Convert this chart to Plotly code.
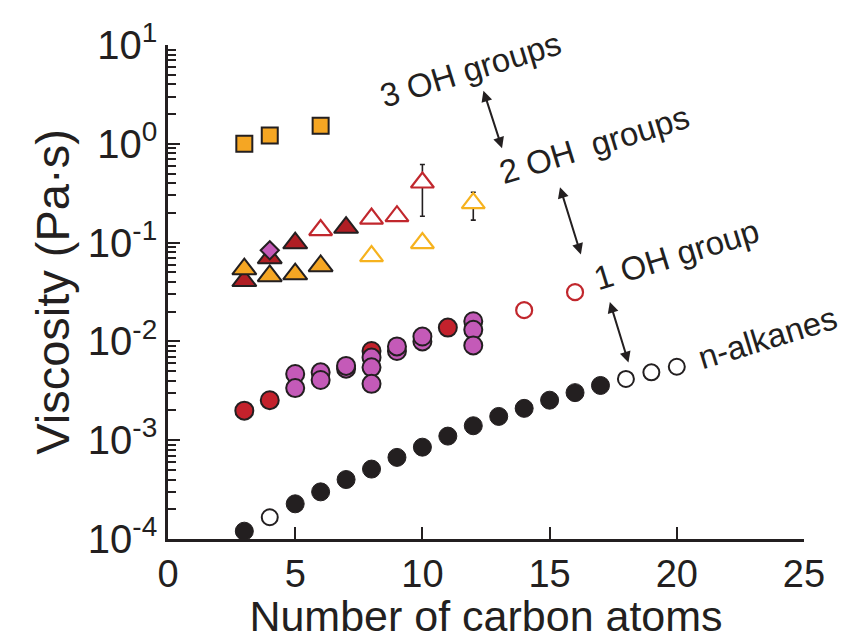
import plotly.graph_objects as go

# ---------------- data ----------------
# n-alkanes
alk_filled_x = [3, 5, 6, 7, 8, 9, 10, 11, 12, 13, 14, 15, 16, 17]
alk_filled_y = [1.2e-4, 2.27e-4, 3.0e-4, 4.0e-4, 5.1e-4, 6.7e-4, 8.5e-4,
                1.10e-3, 1.40e-3, 1.74e-3, 2.10e-3, 2.54e-3, 3.03e-3, 3.58e-3]
alk_open_x = [4, 18, 19, 20]
alk_open_y = [1.66e-4, 4.17e-3, 4.86e-3, 5.54e-3]

# 1 OH group
oh1_red_x = [3, 4, 8, 11]
oh1_red_y = [0.00199, 0.00254, 0.0080, 0.0138]
oh1_purple_x = [5, 5, 6, 6, 7, 7, 8, 8, 8, 9, 9, 10, 10, 12, 12, 12]
oh1_purple_y = [0.00468, 0.00337, 0.00486, 0.00407, 0.0053, 0.00565, 0.00686,
                0.00546, 0.00372, 0.0080, 0.0089, 0.0100, 0.0112, 0.016, 0.0131, 0.0091]
oh1_open_x = [14, 16]
oh1_open_y = [0.0207, 0.0315]

# 2 OH groups
oh2_darkred_x = [3, 4, 5, 7]
oh2_darkred_y = [0.041, 0.070, 0.099, 0.142]
oh2_orange_x = [3, 4, 5, 6]
oh2_orange_y = [0.054, 0.046, 0.048, 0.058]
oh2_diamond_x = [4]
oh2_diamond_y = [0.0836]
oh2_openred_x = [6, 8, 9]
oh2_openred_y = [0.134, 0.175, 0.185]
oh2_openred_err_x = [10]
oh2_openred_err_y = [0.406]
oh2_openred_err_plus = [0.211]
oh2_openred_err_minus = [0.221]
oh2_openorange_x = [8, 10]
oh2_openorange_y = [0.073, 0.099]
oh2_openorange_err_x = [12]
oh2_openorange_err_y = [0.251]
oh2_openorange_err_plus = [0.072]
oh2_openorange_err_minus = [0.082]

# 3 OH groups
oh3_x = [3, 4, 6]
oh3_y = [1.0, 1.21, 1.52]

# axis ticks
x_ticks = [0, 5, 10, 15, 20, 25]
y_decades = [-4, -3, -2, -1, 0, 1]
y_ticktext = ["10<sup>-4</sup>", "10<sup>-3</sup>", "10<sup>-2</sup>",
              "10<sup>-1</sup>", "10<sup>0</sup>", "10<sup>1</sup>"]

# ---------------- style ----------------
INK = "#231f20"
ORANGE = "#F5A623"
DARKRED = "#B01E24"
RED = "#C3212C"
PURPLE = "#C45AB8"
OPENRED = "#C1272D"
OPENORANGE = "#F6B21E"
FONT = "Liberation Sans, Arial, Helvetica, sans-serif"

fig = go.Figure()


def add(x, y, symbol, size, fill, line_color, line_width, err=None):
    kw = {}
    if err is not None:
        kw["error_y"] = dict(type="data", symmetric=False, array=err[0],
                             arrayminus=err[1], color=INK, thickness=1.6, width=2.5)
    fig.add_trace(go.Scatter(
        x=x, y=y, mode="markers", cliponaxis=False, showlegend=False,
        marker=dict(symbol=symbol, size=size, color=fill,
                    line=dict(color=line_color, width=line_width)),
        **kw))


# n-alkanes
add(alk_filled_x, alk_filled_y, "circle", 18, INK, INK, 1)
add(alk_open_x, alk_open_y, "circle", 16, "white", INK, 2)
# 1 OH
add(oh1_red_x, oh1_red_y, "circle", 18, RED, INK, 2)
add(oh1_purple_x, oh1_purple_y, "circle", 18, PURPLE, INK, 2)
add(oh1_open_x, oh1_open_y, "circle", 16, "white", OPENRED, 2.2)
# 2 OH
add(oh2_darkred_x, oh2_darkred_y, "triangle-up", 21, DARKRED, INK, 2)
add(oh2_orange_x, oh2_orange_y, "triangle-up", 21, ORANGE, INK, 2)
add(oh2_diamond_x, oh2_diamond_y, "diamond", 14, PURPLE, INK, 2)
add(oh2_openred_x, oh2_openred_y, "triangle-up", 20, "white", OPENRED, 2.2)
add(oh2_openred_err_x, oh2_openred_err_y, "triangle-up", 20, "white", OPENRED, 2.2,
    err=(oh2_openred_err_plus, oh2_openred_err_minus))
add(oh2_openorange_x, oh2_openorange_y, "triangle-up", 20, "white", OPENORANGE, 2.2)
add(oh2_openorange_err_x, oh2_openorange_err_y, "triangle-up", 20, "white", OPENORANGE, 2.2,
    err=(oh2_openorange_err_plus, oh2_openorange_err_minus))
# 3 OH
add(oh3_x, oh3_y, "square", 16, ORANGE, INK, 2)

# ---------------- annotations ----------------
labels = [
    ("3 OH groups", 11.88, 0.75),
    ("2 OH&nbsp; groups", 16.75, -0.004),
    ("1 OH group", 20.0, -1.117),
    ("n-alkanes", 23.58, -1.962),
]
for txt, lx, ly in labels:
    fig.add_annotation(x=lx, y=ly, xref="x", yref="y", text=txt,
                       showarrow=False, textangle=-17,
                       font=dict(family=FONT, size=33, color=INK),
                       xanchor="center", yanchor="middle")

arrows = [
    ((12.38, 0.553), (13.13, -0.044)),
    ((15.39, -0.424), (16.23, -1.120)),
    ((17.35, -1.585), (18.10, -2.214)),
]
for (x0, y0), (x1, y1) in arrows:
    fig.add_annotation(x=x1, y=y1, ax=x0, ay=y0, xref="x", yref="y",
                       axref="x", ayref="y", text="", showarrow=True,
                       arrowhead=2, startarrowhead=2, arrowside="end+start",
                       arrowsize=1.1, startarrowsize=1.1, arrowwidth=2, arrowcolor=INK)

minor_vals = [m * 10 ** d for d in range(-4, 1) for m in range(2, 10)]

fig.update_layout(
    width=851, height=640,
    margin=dict(l=168, r=47, t=45, b=92),
    paper_bgcolor="white", plot_bgcolor="white",
    font=dict(family=FONT, color=INK),
    xaxis=dict(
        range=[0, 25], tickvals=x_ticks, ticks="inside", ticklen=12, tickwidth=2,
        tickcolor=INK, showline=True, linecolor=INK, linewidth=2.5,
        showgrid=False, zeroline=False, mirror=False,
        tickfont=dict(size=38, family=FONT, color=INK),
        title=dict(text="Number of carbon atoms", font=dict(size=43, family=FONT, color=INK),
                   standoff=3),
    ),
    yaxis=dict(
        type="log", range=[-4, 1], tickvals=[10 ** d for d in y_decades], ticktext=y_ticktext,
        ticks="inside", ticklen=12, tickwidth=2, tickcolor=INK,
        minor=dict(tickvals=minor_vals, ticks="inside", ticklen=8, tickwidth=1.5, tickcolor=INK,
                   showgrid=False),
        showline=True, linecolor=INK, linewidth=2.5, showgrid=False, zeroline=False,
        tickfont=dict(size=40, family=FONT, color=INK),
        title=dict(text="Viscosity (Pa·s)", font=dict(size=47, family=FONT, color=INK),
                   standoff=4),
    ),
)

fig.write_html("out.html")
